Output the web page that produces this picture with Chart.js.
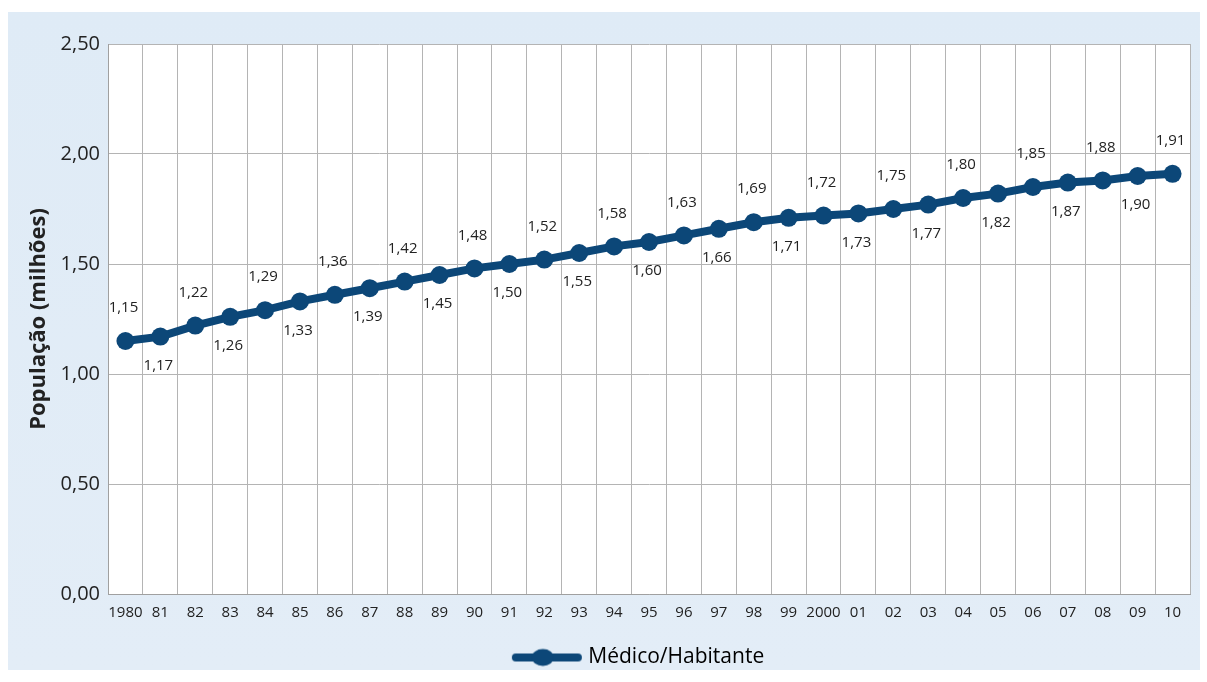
<!DOCTYPE html>
<html>
<head>
<meta charset="utf-8">
<script src="https://cdn.jsdelivr.net/npm/chart.js@4/dist/chart.umd.min.js"></script>
<style>
html,body{margin:0;padding:0;background:#fff;}
#wrap{position:relative;width:1207px;height:682px;}
</style>
</head>
<body>
<div id="wrap"><canvas id="c" width="1207" height="682"></canvas></div>
<script>
const categories = ['1980','81','82','83','84','85','86','87','88','89','90','91','92','93','94','95','96','97','98','99','2000','01','02','03','04','05','06','07','08','09','10'];
const medicoHabitante = [1.15,1.17,1.22,1.26,1.29,1.33,1.36,1.39,1.42,1.45,1.48,1.50,1.52,1.55,1.58,1.60,1.63,1.66,1.69,1.71,1.72,1.73,1.75,1.77,1.80,1.82,1.85,1.87,1.88,1.90,1.91];
const seriesName = 'Médico/Habitante';
const yTitle = 'População (milhões)';

const NAVY = '#0c4778';
const FONT = '"Open Sans", "Noto Sans", sans-serif';
const fmt = v => Number(v).toFixed(2).replace('.', ',');

// legend symbol: line with dot
const sym = document.createElement('canvas');
sym.width = 80; sym.height = 20;
(function(){
  const g = sym.getContext('2d');
  g.strokeStyle = NAVY; g.lineWidth = 8; g.lineCap = 'round';
  g.beginPath(); g.moveTo(13, 10); g.lineTo(75, 10); g.stroke();
  g.fillStyle = NAVY; g.beginPath(); g.ellipse(40, 10, 11, 8.5, 0, 0, Math.PI * 2); g.fill();
})();

const bgPlugin = {
  id: 'bg',
  afterLayout(chart) {
    if (chart.legend) { chart.legend.left += 29; chart.legend.right += 29; }
  },
  beforeDraw(chart) {
    const ctx = chart.ctx;
    ctx.save();
    ctx.fillStyle = '#ffffff';
    ctx.fillRect(0, 0, chart.width, chart.height);
    const grd = ctx.createLinearGradient(0, 12, 0, 670);
    grd.addColorStop(0, '#dfebf6');
    grd.addColorStop(1, '#e3edf7');
    ctx.fillStyle = grd;
    ctx.fillRect(8, 12, 1192, 658);
    const a = chart.chartArea;
    ctx.fillStyle = '#ffffff';
    ctx.fillRect(a.left, a.top, a.right - a.left, a.bottom - a.top);
    ctx.restore();
  }
};

const labelPlugin = {
  id: 'vlabels',
  afterDatasetsDraw(chart) {
    const ctx = chart.ctx;
    const meta = chart.getDatasetMeta(0);
    const data = chart.data.datasets[0].data;
    ctx.save();
    ctx.font = '15px ' + FONT;
    ctx.fillStyle = '#222';
    ctx.textAlign = 'center';
    ctx.textBaseline = 'middle';
    meta.data.forEach((pt, i) => {
      const above = i % 2 === 0;
      const y = above ? pt.y - 33 : pt.y + 29;
      ctx.fillText(fmt(data[i]), pt.x - 2, y);
    });
    ctx.restore();
  }
};

new Chart(document.getElementById('c'), {
  type: 'line',
  data: {
    labels: categories,
    datasets: [{
      label: seriesName,
      data: medicoHabitante,
      borderColor: NAVY,
      backgroundColor: NAVY,
      borderWidth: 8,
      pointRadius: 9,
      pointBackgroundColor: NAVY,
      pointBorderColor: NAVY,
      pointBorderWidth: 0,
      tension: 0,
      fill: false
    }]
  },
  options: {
    responsive: false,
    animation: false,
    layout: { padding: { left: 24, right: 17, top: 44, bottom: 4 } },
    plugins: {
      tooltip: { enabled: false },
      legend: {
        position: 'bottom',
        labels: {
          usePointStyle: true,
          pointStyleWidth: 70,
          padding: 10,
          color: '#222',
          font: { family: FONT, size: 21 },
          generateLabels(chart) {
            return [{ text: seriesName, pointStyle: sym, fillStyle: NAVY, strokeStyle: NAVY, lineWidth: 0, datasetIndex: 0, hidden: false }];
          }
        }
      }
    },
    scales: {
      x: {
        type: 'category',
        offset: true,
        grid: { offset: true, color: '#b4b4b4', lineWidth: 1, drawTicks: false },
        border: { color: '#a0a0a0' },
        ticks: { color: '#222', font: { family: FONT, size: 15 }, padding: 10, maxRotation: 0, autoSkip: false },
        afterFit(s) { s.height = 43; }
      },
      y: {
        min: 0, max: 2.5,
        grid: { color: '#b4b4b4', lineWidth: 1, drawTicks: false },
        border: { color: '#a0a0a0' },
        ticks: { stepSize: 0.5, color: '#222', font: { family: FONT, size: 20 }, padding: 8, callback: v => fmt(v) },
        title: { display: true, text: yTitle, color: '#222', font: { family: FONT, size: 22, weight: 'bold' }, padding: { top: 2, bottom: 0 } },
        afterFit(s) { s.width = 84; }
      }
    }
  },
  plugins: [bgPlugin, labelPlugin]
});
</script>
</body>
</html>
